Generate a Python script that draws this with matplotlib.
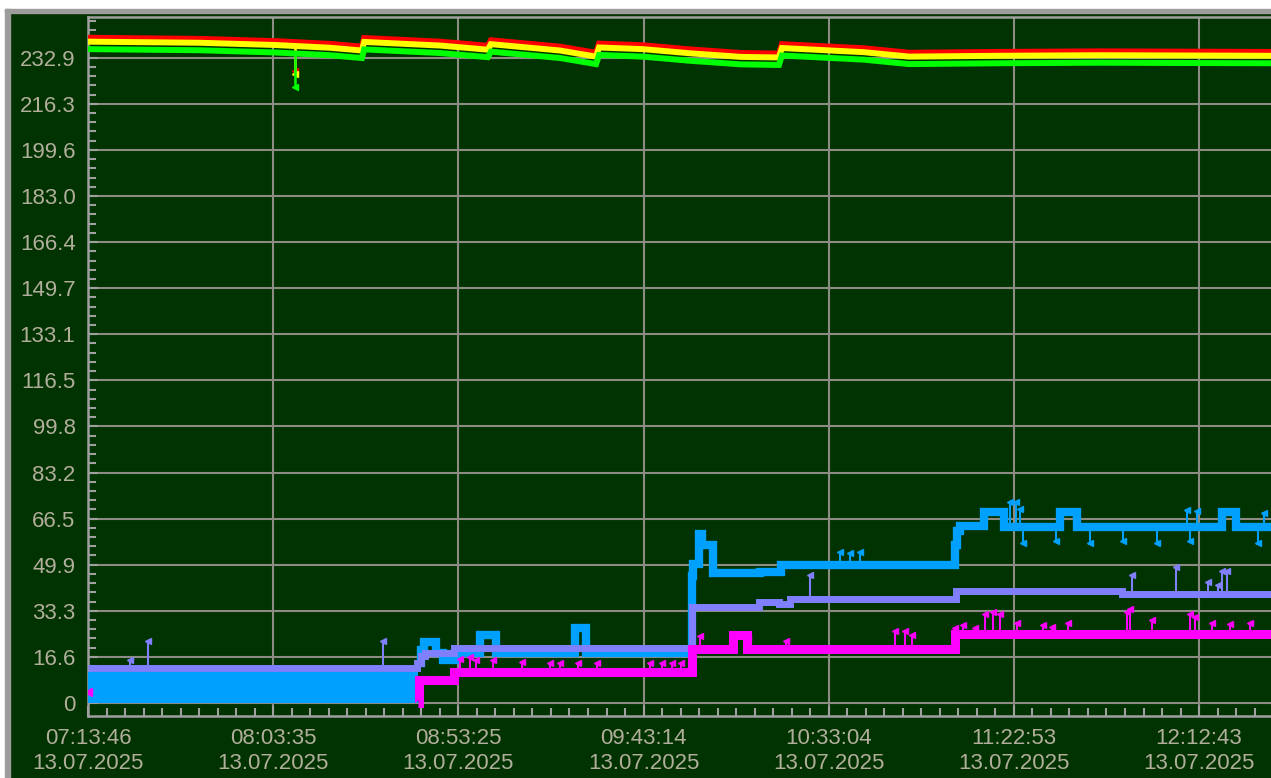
import numpy as np
import matplotlib.pyplot as plt
from matplotlib.patches import Rectangle
from matplotlib.ticker import FixedLocator

plt.rcParams['font.family'] = ['Liberation Sans', 'DejaVu Sans']

# x axis: minutes elapsed since 07:13:46
x_tick_step = 49.825
x_tick_labels = ['07:13:46\n13.07.2025', '08:03:35\n13.07.2025', '08:53:25\n13.07.2025',
                 '09:43:14\n13.07.2025', '10:33:04\n13.07.2025', '11:22:53\n13.07.2025',
                 '12:12:43\n13.07.2025']
x_max = 318.3

y_top_tick = 232.9
y_tick_labels = ['0', '16.6', '33.3', '49.9', '66.5', '83.2', '99.8', '116.5', '133.1',
                 '149.7', '166.4', '183.0', '199.6', '216.3', '232.9']

# phase voltages
volt_t = [0, 30.1, 50.3, 65.1, 73.7, 74.3, 94.7, 107.6, 108.4, 127.0, 136.7, 137.5,
          149.3, 162.0, 175.7, 185.9, 186.7, 208.8, 220.9, 245.0, 272.0, 318.3]
volt_red = [240.1, 239.7, 238.9, 237.9, 236.9, 240.0, 238.7, 237.2, 239.2, 236.9, 234.7,
            238.0, 237.4, 235.9, 234.6, 234.4, 237.8, 236.3, 234.7, 235.0, 235.2, 235.0]
volt_yellow = [238.7, 238.3, 237.5, 236.5, 235.5, 238.6, 237.3, 235.8, 237.8, 235.5, 233.3,
               236.6, 236.0, 234.5, 233.2, 233.0, 236.4, 234.9, 233.3, 233.6, 233.8, 233.6]
volt_green = [236.0, 235.6, 234.8, 233.8, 232.8, 235.9, 234.6, 233.1, 235.1, 232.8, 230.6,
              233.9, 233.3, 231.8, 230.5, 230.3, 233.7, 232.2, 230.6, 230.9, 231.1, 230.9]
dip_t = 55.7
dip_red, dip_yellow, dip_green = 228.0, 227.0, 222.5

# phase currents
blue_band_t = [0.0, 88.8]
blue_band_top = [11.2, 11.2]
blue_t = [88.8, 89.6, 90.3, 93.5, 95.5, 98.7, 105.5, 109.7, 131.0, 134.0, 162.5, 162.9,
          164.4, 165.3, 168.2, 180.8, 186.5, 233.4, 233.9, 234.6, 241.0, 246.5, 261.5,
          266.2, 305.0, 309.0, 318.3]
blue_v = [14.5, 19.0, 22.0, 18.0, 15.5, 18.0, 24.5, 18.0, 27.0, 18.0, 46.0, 50.0,
          61.0, 57.0, 47.0, 47.3, 49.8, 57.0, 62.0, 63.8, 69.0, 63.5, 69.0,
          63.5, 69.0, 63.5, 63.5]
purple_t = [0, 88.6, 89.6, 90.8, 98.6, 162.6, 180.6, 186.0, 189.0, 233.5, 278.2, 318.3]
purple_v = [12.6, 14.5, 16.8, 18.0, 19.8, 34.5, 36.6, 35.8, 37.5, 40.5, 39.4, 39.4]
magenta_t = [88.7, 89.1, 98.4, 162.5, 173.5, 177.3, 233.4, 318.3]
magenta_v = [0.0, 8.3, 11.3, 19.6, 24.5, 19.6, 24.8, 24.8]
magenta_first = (0.0, 4.0)

blue_spike_t = [202.3, 205.0, 207.7, 248.1, 249.7, 250.7, 251.5, 260.4, 269.6, 278.5,
                287.6, 295.7, 296.5, 298.5, 314.8, 316.5]
blue_spike_v = [54.5, 54.0, 54.5, 72.5, 72.5, 70.0, 57.7, 58.4, 57.7, 58.4,
                57.7, 69.7, 58.4, 69.3, 57.7, 68.6]
purple_spike_t = [11.3, 16.1, 79.4, 194.2, 280.9, 292.7, 301.3, 304.0, 305.2, 306.4]
purple_spike_v = [15.5, 22.4, 22.4, 46.2, 46.2, 49.1, 43.7, 42.6, 47.6, 47.6]
magenta_spike_t = [100.1, 102.8, 104.4, 109.0, 116.8, 124.3, 127.0, 131.8, 136.9, 151.2,
                   154.4, 157.1, 159.5, 164.6, 177.6, 187.8, 217.1, 219.8, 221.7, 233.3,
                   235.4, 238.6, 241.3, 243.5, 245.4, 250.0, 257.0, 259.4, 263.7, 279.5,
                   280.3, 286.3, 296.5, 297.8, 302.4, 307.2, 312.6]
magenta_spike_v = [16.0, 16.5, 15.5, 15.5, 14.8, 14.5, 14.5, 14.5, 14.5, 14.5,
                   14.5, 14.5, 14.5, 24.0, 23.5, 22.5, 26.0, 26.0, 24.5, 27.0,
                   28.0, 27.0, 32.0, 33.0, 32.0, 29.0, 28.0, 27.5, 29.0, 33.0,
                   34.0, 30.0, 32.0, 31.0, 29.0, 28.5, 29.0]

BG = '#003300'
GRID = '#8c8c84'
FRAME = '#a0a0a0'
TEXT = '#b2ae9c'
LINE_KW = dict(solid_joinstyle='miter', solid_capstyle='butt')


def step_at(ts, vs, t):
    i = np.searchsorted(ts, t, side='right') - 1
    return vs[max(i, 0)]


def spikes(ax, ts, vs, spike_t, spike_v, color, z):
    base = [step_at(ts, vs, t) for t in spike_t]
    ax.vlines(spike_t, base, spike_v, color=color, lw=1.5, zorder=z)
    ax.plot(spike_t, spike_v, ls='none', marker='<', ms=5, color=color, zorder=z)


fig = plt.figure(figsize=(12.71, 7.78), dpi=100, facecolor=BG)
W, H = 1271, 778
fig.patches.extend([
    Rectangle((0, 1 - 9 / H), 1, 9 / H, transform=fig.transFigure, color='white', zorder=0),
    Rectangle((0, 0), 5 / W, 1, transform=fig.transFigure, color='white', zorder=0),
    Rectangle((5 / W, 1 - 13 / H), 1, 4 / H, transform=fig.transFigure, color='#9c9c9c', zorder=0),
    Rectangle((5 / W, 0), 5 / W, 1 - 9 / H, transform=fig.transFigure, color='#9c9c9c', zorder=0),
])

ax = fig.add_axes([88 / W, 62 / H, 1 - 88 / W, 699 / H])
ax.set_facecolor(BG)

# voltages
ax.plot(volt_t, volt_red, color='#ff0000', lw=4.3, zorder=3, **LINE_KW)
ax.plot(volt_t, volt_yellow, color='#ffff00', lw=4.3, zorder=4, **LINE_KW)
ax.plot(volt_t, volt_green, color='#00ff00', lw=4.3, zorder=5, **LINE_KW)
for v_arr, dip, col, z in [(volt_red, dip_red, '#ff0000', 3), (volt_yellow, dip_yellow, '#ffff00', 4),
                          (volt_green, dip_green, '#00ff00', 5)]:
    base = np.interp(dip_t, volt_t, v_arr)
    ax.vlines(dip_t, dip, base, color=col, lw=1.8, zorder=z)
    ax.plot(dip_t, dip, ls='none', marker='<', ms=4.5, color=col, zorder=z)

# currents
ax.fill_between(blue_band_t, 0, blue_band_top, color='#00a0ff', lw=0, zorder=3)
ax.plot(blue_t, blue_v, color='#00a0ff', lw=6, drawstyle='steps-post', zorder=3, **LINE_KW)
spikes(ax, blue_t, blue_v, blue_spike_t, blue_spike_v, '#00a0ff', 3)
ax.plot(purple_t, purple_v, color='#8080ff', lw=5, drawstyle='steps-post', zorder=4, **LINE_KW)
spikes(ax, purple_t, purple_v, purple_spike_t, purple_spike_v, '#8080ff', 4)
ax.plot(magenta_t, magenta_v, color='#ff00ff', lw=6.5, drawstyle='steps-post', zorder=5, **LINE_KW)
spikes(ax, magenta_t, magenta_v, magenta_spike_t, magenta_spike_v, '#ff00ff', 5)
ax.plot(*magenta_first, ls='none', marker='<', ms=6, color='#ff00ff', zorder=5)

# axes
ax.set_xlim(0, x_max)
ax.set_ylim(-4.7, 247.6)
y_step = y_top_tick / 14
ax.yaxis.set_major_locator(FixedLocator([i * y_step for i in range(15)]))
ax.yaxis.set_minor_locator(FixedLocator([i * y_step / 5 for i in range(76)]))
ax.set_yticklabels(y_tick_labels)
ax.xaxis.set_major_locator(FixedLocator([i * x_tick_step for i in range(7)]))
ax.xaxis.set_minor_locator(FixedLocator([i * x_tick_step / 10 for i in range(65)]))
ax.set_xticklabels(x_tick_labels)
ax.tick_params(which='both', direction='in', color=FRAME, width=1.5, labelcolor=TEXT,
               labelsize=16, pad=9)
ax.tick_params(which='major', length=7)
ax.tick_params(which='minor', length=6)
ax.grid(True, which='major', color=GRID, lw=1.5, zorder=1)
ax.set_axisbelow(True)
for side in ['left', 'bottom', 'top']:
    ax.spines[side].set_color(FRAME)
    ax.spines[side].set_linewidth(1.8)
ax.spines['right'].set_visible(False)

fig.savefig('out.png', dpi=100, facecolor=BG)
